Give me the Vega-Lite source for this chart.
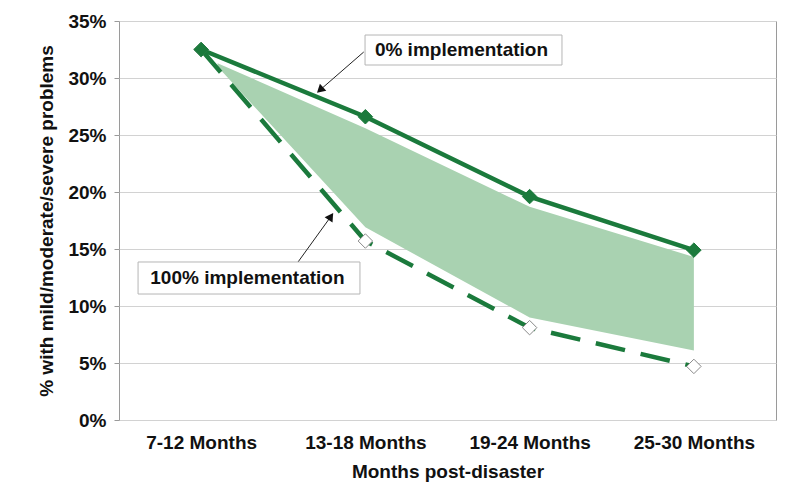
{
  "$schema": "https://vega.github.io/schema/vega-lite/v6.json",
  "width": 657,
  "height": 399,
  "autosize": {"type": "none"},
  "padding": {"left": 119, "top": 21, "right": 24, "bottom": 78},
  "background": "white",
  "config": {
    "view": {"stroke": "#9a9a9a", "strokeWidth": 1},
    "font": "Liberation Sans"
  },
  "datasets": {
    "series": [
      {"period": 1, "scenario": "0% implementation", "value": 0.325},
      {"period": 2, "scenario": "0% implementation", "value": 0.266},
      {"period": 3, "scenario": "0% implementation", "value": 0.196},
      {"period": 4, "scenario": "0% implementation", "value": 0.149},
      {"period": 1, "scenario": "100% implementation", "value": 0.325},
      {"period": 2, "scenario": "100% implementation", "value": 0.157},
      {"period": 3, "scenario": "100% implementation", "value": 0.081},
      {"period": 4, "scenario": "100% implementation", "value": 0.047}
    ],
    "band": [
      {"period": 1.1, "hi": 0.313, "lo": 0.310},
      {"period": 2, "hi": 0.256, "lo": 0.169},
      {"period": 3, "hi": 0.187, "lo": 0.090},
      {"period": 4, "hi": 0.143, "lo": 0.061}
    ],
    "notes": [
      {"scenario": "0% implementation", "x1": 1.998, "x2": 3.197, "y1": 0.3377, "y2": 0.3114, "tx": 2.585, "ty": 0.3246},
      {"scenario": "100% implementation", "x1": 0.616, "x2": 1.967, "y1": 0.1386, "y2": 0.1105, "tx": 1.282, "ty": 0.1245}
    ],
    "arrows": [
      {"scenario": "0% implementation", "x1": 1.99, "y1": 0.3228, "x2": 1.724, "y2": 0.2895},
      {"scenario": "100% implementation", "x1": 1.59, "y1": 0.1386, "x2": 1.79, "y2": 0.1785}
    ]
  },
  "encoding": {
    "x": {
      "type": "quantitative",
      "scale": {"domain": [0.5, 4.5], "nice": false, "zero": false},
      "axis": {
        "values": [1, 2, 3, 4],
        "labelExpr": "['', '7-12 Months', '13-18 Months', '19-24 Months', '25-30 Months'][datum.value]",
        "title": "Months post-disaster",
        "grid": false,
        "ticks": false,
        "domain": false,
        "labelFont": "Liberation Sans",
        "labelFontSize": 19,
        "labelFontWeight": "bold",
        "labelColor": "#111111",
        "labelPadding": 13,
        "titleFont": "Liberation Sans",
        "titleFontSize": 19,
        "titleFontWeight": "bold",
        "titleColor": "#111111",
        "titlePadding": 10
      }
    },
    "y": {
      "type": "quantitative",
      "scale": {"domain": [0, 0.35], "nice": false},
      "axis": {
        "values": [0, 0.05, 0.1, 0.15, 0.2, 0.25, 0.3, 0.35],
        "format": ".0%",
        "title": "% with mild/moderate/severe problems",
        "grid": true,
        "gridColor": "#d2d2d2",
        "domain": false,
        "tickSize": 5,
        "tickColor": "#9a9a9a",
        "labelFont": "Liberation Sans",
        "labelFontSize": 19,
        "labelFontWeight": "bold",
        "labelColor": "#111111",
        "labelPadding": 8,
        "titleFont": "Liberation Sans",
        "titleFontSize": 19,
        "titleFontWeight": "bold",
        "titleColor": "#111111",
        "titlePadding": 11
      }
    }
  },
  "layer": [
    {
      "data": {"name": "band"},
      "mark": {"type": "area", "color": "#a9d2b1", "opacity": 1},
      "encoding": {
        "x": {"field": "period"},
        "y": {"field": "hi"},
        "y2": {"field": "lo"}
      }
    },
    {
      "data": {"name": "series"},
      "transform": [{"filter": "datum.scenario === '100% implementation'"}],
      "mark": {"type": "line", "color": "#1b7a3c", "strokeWidth": 4.5, "strokeDash": [30, 16]},
      "encoding": {"x": {"field": "period"}, "y": {"field": "value"}}
    },
    {
      "data": {"name": "series"},
      "transform": [{"filter": "datum.scenario === '0% implementation'"}],
      "mark": {"type": "line", "color": "#1b7a3c", "strokeWidth": 4.5},
      "encoding": {"x": {"field": "period"}, "y": {"field": "value"}}
    },
    {
      "data": {"name": "series"},
      "transform": [{"filter": "datum.scenario === '100% implementation'"}],
      "mark": {"type": "point", "shape": "diamond", "size": 210, "filled": true, "fill": "white", "stroke": "#8a8a8a", "strokeWidth": 1, "opacity": 1},
      "encoding": {"x": {"field": "period"}, "y": {"field": "value"}}
    },
    {
      "data": {"name": "series"},
      "transform": [{"filter": "datum.scenario === '0% implementation'"}],
      "mark": {"type": "point", "shape": "diamond", "size": 210, "filled": true, "fill": "#1b7a3c", "stroke": "#1b7a3c", "strokeWidth": 1, "opacity": 1},
      "encoding": {"x": {"field": "period"}, "y": {"field": "value"}}
    },
    {
      "data": {"name": "arrows"},
      "mark": {"type": "rule", "color": "#222222", "strokeWidth": 1},
      "encoding": {
        "x": {"field": "x1"},
        "y": {"field": "y1"},
        "x2": {"field": "x2"},
        "y2": {"field": "y2"}
      }
    },
    {
      "data": {"name": "arrows"},
      "transform": [{"filter": "datum.scenario === '0% implementation'"}],
      "mark": {"type": "point", "shape": "triangle-up", "size": 90, "filled": true, "color": "#111111", "opacity": 1, "angle": 228},
      "encoding": {"x": {"field": "x2"}, "y": {"field": "y2"}}
    },
    {
      "data": {"name": "arrows"},
      "transform": [{"filter": "datum.scenario === '100% implementation'"}],
      "mark": {"type": "point", "shape": "triangle-up", "size": 90, "filled": true, "color": "#111111", "opacity": 1, "angle": 34},
      "encoding": {"x": {"field": "x2"}, "y": {"field": "y2"}}
    },
    {
      "data": {"name": "notes"},
      "mark": {"type": "rect", "fill": "white", "stroke": "#b5b5b5", "strokeWidth": 1},
      "encoding": {
        "x": {"field": "x1"},
        "x2": {"field": "x2"},
        "y": {"field": "y1"},
        "y2": {"field": "y2"}
      }
    },
    {
      "data": {"name": "notes"},
      "mark": {"type": "text", "font": "Liberation Sans", "fontSize": 19, "fontWeight": "bold", "color": "#111111", "align": "center", "baseline": "middle"},
      "encoding": {
        "x": {"field": "tx"},
        "y": {"field": "ty"},
        "text": {"field": "scenario"}
      }
    }
  ]
}
